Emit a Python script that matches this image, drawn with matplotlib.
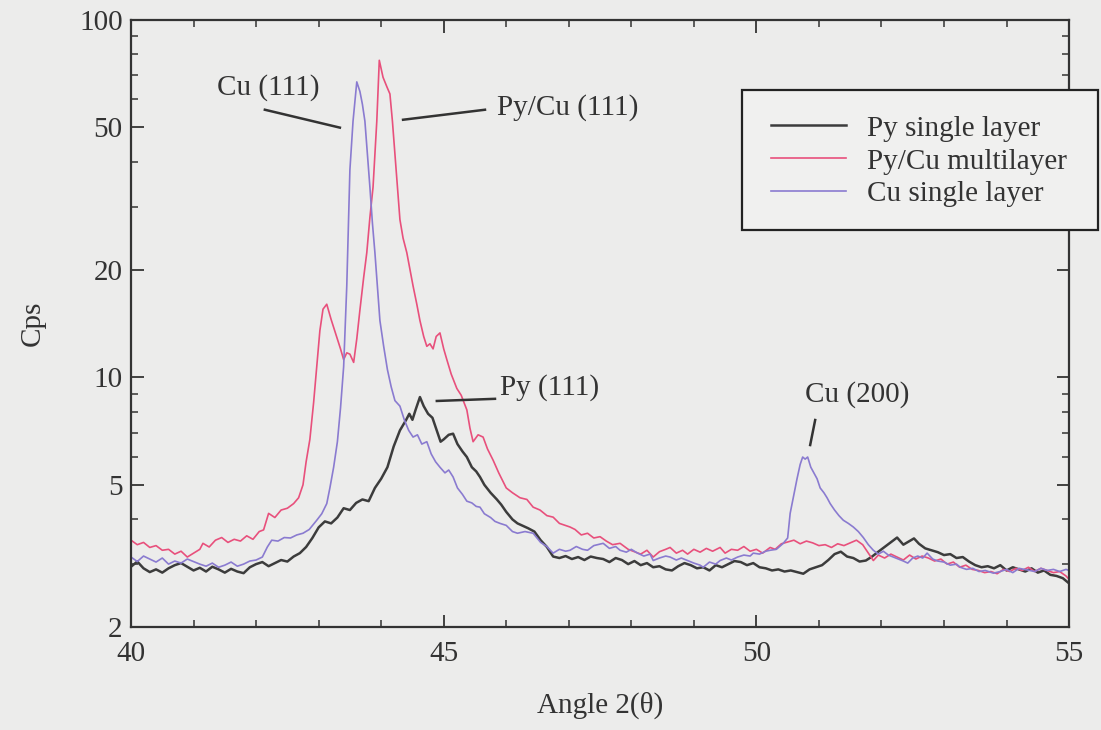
import numpy as np
import matplotlib
matplotlib.use("Agg")
import matplotlib.pyplot as plt
from matplotlib.patches import Rectangle
from matplotlib.ticker import LogLocator, FixedLocator, NullFormatter, MultipleLocator

plt.rcParams['font.family'] = ['Liberation Serif', 'DejaVu Serif']

# Py single layer
py_x = [40.00, 40.10, 40.20, 40.30, 40.40, 40.50, 40.60, 40.70, 40.80, 40.90,
        41.00, 41.10, 41.20, 41.30, 41.40, 41.50, 41.60, 41.70, 41.80, 41.90,
        42.00, 42.10, 42.20, 42.30, 42.40, 42.50, 42.60, 42.70, 42.80, 42.90,
        43.00, 43.10, 43.20, 43.30, 43.40, 43.50, 43.60, 43.70, 43.80, 43.90,
        44.00, 44.10, 44.20, 44.30, 44.40, 44.45, 44.50, 44.55, 44.62, 44.68,
        44.75, 44.82, 44.90, 44.95, 45.00, 45.08, 45.15, 45.22, 45.30, 45.37,
        45.45, 45.52, 45.58, 45.65, 45.75, 45.85, 45.92, 46.00, 46.10, 46.18,
        46.25, 46.35, 46.45, 46.55, 46.65, 46.75, 46.85, 46.95, 47.05, 47.15,
        47.25, 47.35, 47.45, 47.55, 47.65, 47.75, 47.85, 47.95, 48.05, 48.15,
        48.25, 48.35, 48.45, 48.55, 48.65, 48.75, 48.85, 48.95, 49.05, 49.15,
        49.25, 49.35, 49.45, 49.55, 49.65, 49.75, 49.85, 49.95, 50.05, 50.15,
        50.25, 50.35, 50.45, 50.55, 50.65, 50.75, 50.85, 50.95, 51.05, 51.15,
        51.25, 51.35, 51.45, 51.55, 51.65, 51.75, 51.85, 51.95, 52.05, 52.15,
        52.25, 52.35, 52.45, 52.52, 52.60, 52.70, 52.80, 52.90, 53.00, 53.10,
        53.20, 53.30, 53.40, 53.50, 53.60, 53.70, 53.80, 53.90, 54.00, 54.10,
        54.20, 54.30, 54.40, 54.50, 54.60, 54.70, 54.80, 54.90, 55.00]
py_y = [2.95, 3.05, 2.92, 2.85, 2.90, 2.84, 2.92, 2.98, 3.02, 2.95,
        2.88, 2.93, 2.86, 2.95, 2.90, 2.84, 2.91, 2.86, 2.83, 2.94,
        3.00, 3.04, 2.96, 3.02, 3.08, 3.05, 3.15, 3.22, 3.35, 3.55,
        3.80, 3.95, 3.90, 4.05, 4.30, 4.25, 4.45, 4.55, 4.50, 4.90,
        5.20, 5.60, 6.40, 7.10, 7.60, 7.90, 7.60, 8.10, 8.80, 8.30,
        7.90, 7.70, 7.00, 6.60, 6.70, 6.90, 6.95, 6.50, 6.20, 5.98,
        5.60, 5.45, 5.26, 5.00, 4.75, 4.55, 4.40, 4.20, 4.00, 3.90,
        3.85, 3.78, 3.70, 3.50, 3.35, 3.15, 3.12, 3.16, 3.10, 3.14,
        3.08, 3.15, 3.12, 3.10, 3.04, 3.12, 3.08, 3.00, 3.06, 2.98,
        3.02, 2.94, 2.96, 2.90, 2.88, 2.96, 3.02, 2.98, 2.92, 2.94,
        2.88, 2.98, 2.94, 3.00, 3.06, 3.04, 2.98, 3.02, 2.94, 2.92,
        2.88, 2.90, 2.86, 2.88, 2.85, 2.82, 2.90, 2.94, 2.98, 3.08,
        3.20, 3.25, 3.15, 3.12, 3.05, 3.07, 3.15, 3.25, 3.35, 3.45,
        3.56, 3.40, 3.48, 3.54, 3.42, 3.32, 3.28, 3.24, 3.18, 3.20,
        3.12, 3.14, 3.05, 2.98, 2.94, 2.96, 2.92, 2.98, 2.88, 2.94,
        2.90, 2.86, 2.92, 2.84, 2.88, 2.80, 2.78, 2.74, 2.65]

# Py/Cu multilayer
ml_x = [40.00, 40.10, 40.20, 40.30, 40.40, 40.50, 40.60, 40.70, 40.80, 40.90,
        41.00, 41.10, 41.15, 41.25, 41.35, 41.45, 41.55, 41.65, 41.75, 41.85,
        41.95, 42.05, 42.12, 42.20, 42.30, 42.40, 42.50, 42.60, 42.68, 42.75,
        42.80, 42.86, 42.92, 42.97, 43.02, 43.07, 43.13, 43.20, 43.30, 43.35,
        43.40, 43.45, 43.50, 43.56, 43.61, 43.66, 43.72, 43.77, 43.82, 43.87,
        43.93, 43.97, 44.03, 44.09, 44.14, 44.18, 44.22, 44.26, 44.30, 44.35,
        44.41, 44.46, 44.51, 44.57, 44.62, 44.68, 44.73, 44.78, 44.83, 44.88,
        44.94, 45.00, 45.05, 45.12, 45.21, 45.28, 45.37, 45.42, 45.47, 45.55,
        45.63, 45.70, 45.79, 45.88, 46.00, 46.10, 46.22, 46.33, 46.43, 46.54,
        46.65, 46.75, 46.85, 47.02, 47.10, 47.20, 47.30, 47.40, 47.50, 47.60,
        47.70, 47.82, 47.95, 48.05, 48.15, 48.25, 48.35, 48.45, 48.55, 48.62,
        48.72, 48.82, 48.90, 49.00, 49.10, 49.20, 49.30, 49.42, 49.50, 49.60,
        49.70, 49.80, 49.90, 50.00, 50.10, 50.22, 50.30, 50.40, 50.50, 50.60,
        50.70, 50.80, 50.90, 51.00, 51.10, 51.20, 51.30, 51.40, 51.50, 51.60,
        51.70, 51.80, 51.87, 51.95, 52.05, 52.15, 52.25, 52.35, 52.45, 52.55,
        52.65, 52.75, 52.85, 52.95, 53.05, 53.15, 53.25, 53.35, 53.45, 53.55,
        53.65, 53.75, 53.85, 53.95, 54.05, 54.15, 54.25, 54.35, 54.45, 54.55,
        54.65, 54.75, 54.85, 54.95, 55.00]
ml_y = [3.50, 3.40, 3.45, 3.34, 3.38, 3.28, 3.30, 3.20, 3.26, 3.14,
        3.22, 3.30, 3.43, 3.35, 3.50, 3.56, 3.45, 3.52, 3.48, 3.60,
        3.52, 3.70, 3.74, 4.16, 4.05, 4.25, 4.30, 4.43, 4.60, 5.00,
        5.80, 6.70, 8.50, 10.70, 13.50, 15.50, 16.00, 14.50, 12.80, 12.00,
        11.20, 11.70, 11.60, 11.00, 12.80, 15.40, 19.00, 22.30, 28.00, 34.00,
        52.00, 77.00, 69.00, 65.00, 62.00, 52.00, 42.00, 34.00, 27.60, 24.50,
        22.30, 20.00, 18.00, 16.00, 14.40, 13.00, 12.20, 12.40, 12.00, 13.00,
        13.30, 12.00, 11.20, 10.20, 9.30, 8.90, 8.10, 7.20, 6.60, 6.90,
        6.80, 6.30, 5.86, 5.40, 4.90, 4.75, 4.60, 4.55, 4.33, 4.25,
        4.10, 4.06, 3.90, 3.81, 3.75, 3.62, 3.66, 3.55, 3.58, 3.48,
        3.40, 3.43, 3.30, 3.25, 3.20, 3.28, 3.14, 3.25, 3.30, 3.34,
        3.22, 3.28, 3.20, 3.30, 3.24, 3.32, 3.26, 3.34, 3.22, 3.30,
        3.28, 3.36, 3.26, 3.30, 3.22, 3.34, 3.30, 3.42, 3.46, 3.50,
        3.42, 3.48, 3.44, 3.38, 3.40, 3.34, 3.42, 3.38, 3.44, 3.50,
        3.40, 3.20, 3.07, 3.18, 3.12, 3.20, 3.14, 3.08, 3.18, 3.10,
        3.16, 3.12, 3.06, 3.10, 3.00, 3.04, 2.94, 2.98, 2.90, 2.88,
        2.84, 2.86, 2.82, 2.90, 2.86, 2.92, 2.88, 2.94, 2.86, 2.92,
        2.88, 2.84, 2.86, 2.78, 2.72]

# Cu single layer
cu_x = [40.00, 40.10, 40.20, 40.30, 40.40, 40.50, 40.60, 40.70, 40.80, 40.90,
        41.00, 41.10, 41.20, 41.30, 41.40, 41.50, 41.60, 41.70, 41.80, 41.90,
        42.00, 42.10, 42.18, 42.25, 42.35, 42.45, 42.55, 42.65, 42.75, 42.85,
        42.97, 43.05, 43.13, 43.18, 43.24, 43.30, 43.35, 43.40, 43.45, 43.50,
        43.55, 43.61, 43.66, 43.70, 43.74, 43.78, 43.82, 43.86, 43.90, 43.94,
        43.98, 44.04, 44.10, 44.16, 44.22, 44.30, 44.37, 44.44, 44.51, 44.58,
        44.65, 44.73, 44.80, 44.87, 44.94, 45.02, 45.08, 45.15, 45.22, 45.30,
        45.37, 45.45, 45.52, 45.58, 45.65, 45.75, 45.82, 45.90, 46.00, 46.10,
        46.18, 46.30, 46.43, 46.55, 46.65, 46.75, 46.85, 46.95, 47.02, 47.12,
        47.22, 47.30, 47.40, 47.55, 47.65, 47.75, 47.82, 47.92, 48.00, 48.10,
        48.20, 48.30, 48.35, 48.45, 48.55, 48.62, 48.72, 48.80, 48.90, 49.00,
        49.10, 49.15, 49.25, 49.35, 49.42, 49.52, 49.60, 49.70, 49.80, 49.90,
        49.95, 50.05, 50.15, 50.22, 50.32, 50.43, 50.50, 50.54, 50.60, 50.65,
        50.70, 50.74, 50.78, 50.82, 50.87, 50.92, 50.97, 51.02, 51.08, 51.13,
        51.18, 51.25, 51.32, 51.39, 51.47, 51.55, 51.63, 51.71, 51.79, 51.87,
        51.95, 52.03, 52.11, 52.19, 52.27, 52.35, 52.42, 52.50, 52.58, 52.66,
        52.73, 52.82, 52.90, 53.00, 53.10, 53.20, 53.26, 53.36, 53.46, 53.56,
        53.66, 53.79, 53.90, 54.00, 54.10, 54.20, 54.33, 54.45, 54.55, 54.65,
        54.75, 54.85, 54.95, 55.00]
cu_y = [3.14, 3.05, 3.16, 3.10, 3.04, 3.12, 3.00, 3.06, 3.02, 3.10,
        3.05, 3.00, 2.96, 3.02, 2.94, 2.98, 3.04, 2.96, 3.00, 3.06,
        3.08, 3.14, 3.35, 3.50, 3.48, 3.56, 3.55, 3.62, 3.66, 3.75,
        3.98, 4.15, 4.43, 4.90, 5.60, 6.60, 8.20, 10.70, 18.00, 38.00,
        52.00, 67.00, 63.00, 58.00, 52.00, 42.00, 34.00, 27.00, 22.30, 18.00,
        14.40, 12.20, 10.50, 9.40, 8.60, 8.30, 7.60, 7.10, 6.80, 6.90,
        6.50, 6.60, 6.10, 5.80, 5.60, 5.40, 5.50, 5.26, 4.90, 4.70,
        4.50, 4.45, 4.35, 4.33, 4.15, 4.05, 3.95, 3.90, 3.85, 3.70,
        3.66, 3.70, 3.66, 3.45, 3.36, 3.22, 3.30, 3.26, 3.28, 3.36,
        3.30, 3.28, 3.38, 3.43, 3.32, 3.36, 3.28, 3.24, 3.30, 3.22,
        3.16, 3.20, 3.07, 3.12, 3.16, 3.14, 3.08, 3.12, 3.07, 3.02,
        2.98, 2.94, 3.04, 3.00, 3.07, 3.12, 3.08, 3.14, 3.18, 3.16,
        3.22, 3.20, 3.26, 3.28, 3.30, 3.43, 3.55, 4.16, 4.70, 5.20,
        5.70, 5.98, 5.90, 5.98, 5.60, 5.40, 5.20, 4.90, 4.75, 4.60,
        4.43, 4.25, 4.10, 3.98, 3.90, 3.81, 3.70, 3.56, 3.40, 3.28,
        3.20, 3.26, 3.18, 3.14, 3.10, 3.06, 3.02, 3.12, 3.16, 3.12,
        3.22, 3.10, 3.06, 3.04, 2.98, 3.00, 2.94, 2.90, 2.92, 2.86,
        2.88, 2.83, 2.86, 2.90, 2.84, 2.92, 2.89, 2.86, 2.92, 2.88,
        2.90, 2.86, 2.90, 2.88]

series_labels = ["Py single layer", "Py/Cu multilayer", "Cu single layer"]
series_colors = ["#3c3c3c", "#e8507c", "#8a7bd0"]

# peak labels: text, text pos, leader line start/end, alignment
peak_text = ["Cu (111)", "Py/Cu (111)", "Py (111)", "Cu (200)"]
peak_text_xy = [(42.19, 64.5), (45.85, 56.7), (45.90, 9.33), (51.61, 8.92)]
peak_ha = ["center", "left", "left", "center"]
peak_line = [((42.14, 43.34), (56.0, 49.9)),
             ((44.35, 45.66), (52.5, 56.0)),
             ((44.89, 45.82), (8.58, 8.70)),
             ((50.94, 50.86), (7.59, 6.46))]

fs = 21
bg = "#ececeb"
fig = plt.figure(figsize=(11.01, 7.30), dpi=100, facecolor=bg)
ax = fig.add_axes([0.119, 0.141, 0.852, 0.832], facecolor=bg)

lines = []
for xs, ys, c, lw in zip([py_x, ml_x, cu_x], [py_y, ml_y, cu_y],
                         series_colors, [1.8, 1.2, 1.2]):
    ln, = ax.plot(xs, ys, color=c, lw=lw)
    lines.append(ln)

ax.set_yscale("log")
ax.set_xlim(40, 55)
ax.set_ylim(2, 100)
ax.yaxis.set_major_locator(FixedLocator([2, 5, 10, 20, 50, 100]))
ax.yaxis.set_minor_locator(LogLocator(base=10, subs=np.arange(2, 10)))
ax.yaxis.set_minor_formatter(NullFormatter())
ax.set_yticklabels(["2", "5", "10", "20", "50", "100"])
ax.xaxis.set_major_locator(MultipleLocator(5))
ax.xaxis.set_minor_locator(MultipleLocator(1))

ax.tick_params(which="both", direction="in", top=True, right=True,
               color="#333333", labelsize=fs, labelcolor="#333333")
ax.tick_params(which="major", length=9, width=1.3)
ax.tick_params(which="minor", length=5, width=1.1)
ax.tick_params(axis="x", pad=10)
ax.tick_params(axis="y", pad=6)
for s in ax.spines.values():
    s.set_color("#333333")
    s.set_linewidth(1.6)

ax.set_xlabel("Angle 2(θ)", fontsize=fs, color="#333333", labelpad=18)
ax.set_ylabel("Cps", fontsize=fs, color="#333333", labelpad=24)

for t, (tx, ty), ha, (lx, ly) in zip(peak_text, peak_text_xy, peak_ha, peak_line):
    ax.plot(lx, ly, color="#333333", lw=1.8)
    ax.text(tx, ty, t, ha=ha, va="center", fontsize=fs, color="#333333")

# legend box overlapping the right spine
box = Rectangle((0.674, 0.685), 0.323, 0.192, transform=fig.transFigure,
                facecolor="#f0f0ef", edgecolor="#222222", lw=1.6, zorder=5)
fig.patches.append(box)
leg = fig.legend(lines, series_labels, loc="center left",
                 bbox_to_anchor=(0.676, 0.779), frameon=False, fontsize=fs,
                 handlelength=2.6, handletextpad=0.7, labelspacing=0.22,
                 labelcolor="#333333")
leg.set_zorder(6)

fig.savefig("out.png", dpi=100, facecolor=bg)
